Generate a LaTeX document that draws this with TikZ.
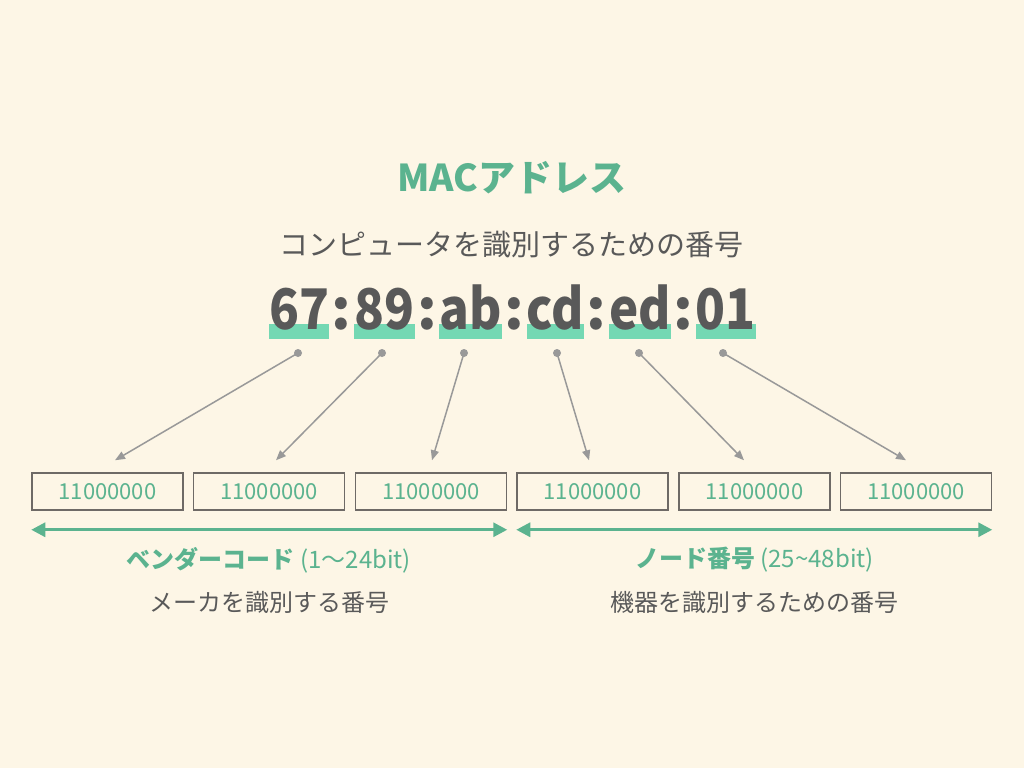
\documentclass[tikz,border=0pt]{standalone}
\usepackage{fontspec}
\setmainfont{Noto Sans CJK JP}
\usepackage{graphicx}
\usepackage{tikz}
\usetikzlibrary{arrows.meta}
\usetikzlibrary{positioning}
\pgfdeclarelayer{paper}
\pgfdeclarelayer{background}
\pgfsetlayers{paper,background,main}

\definecolor{papercol}{HTML}{FDF6E6}
\definecolor{leaf}{HTML}{5BB38F}
\definecolor{mint}{HTML}{74D8B3}
\definecolor{ink}{HTML}{595959}
\definecolor{linkgray}{HTML}{999999}
\definecolor{framegray}{HTML}{6E6A66}

\newcommand{\octpair}[1]{\scalebox{0.88}[1]{#1}}

\tikzset{
  mac/.style={inner sep=0pt, anchor=base west, text=ink, font=\fontsize{56}{64}\selectfont\bfseries},
  colon/.style={mac, inner xsep=2.3pt},
  bits/.style={draw=framegray, line width=1.5pt, minimum width=151pt, minimum height=37pt,
    inner sep=0pt, text=leaf, font=\fontsize{22}{26}\selectfont},
  link/.style={draw=linkgray, line width=1.5pt, -{Triangle[length=10pt,width=8pt]}},
  span/.style={draw=leaf, line width=3pt,
    {Triangle[length=14pt,width=14pt]}-{Triangle[length=14pt,width=14pt]}},
  caption/.style={text=leaf, font=\fontsize{24}{28}\selectfont},
  remark/.style={text=ink, font=\fontsize{24}{28}\selectfont},
}

\begin{document}
\begin{tikzpicture}[x=1pt, y=-1pt]
  % Paper
  \begin{pgfonlayer}{paper}
    \fill[papercol] (0,0) rectangle (1024,768);
  \end{pgfonlayer}
  \useasboundingbox (0,0) rectangle (1024,768);

  % Heading
  \node[text=leaf, font=\fontsize{37}{40}\selectfont\bfseries] (title) at (512,178) {MACアドレス};
  \node[text=ink, font=\fontsize{29}{32}\selectfont] (purpose) at (511,245) {コンピュータを識別するための番号};

  % The address, one pair at a time
  \node[mac] (m1) at (269,329) {\octpair{67}};
  \node[colon] (c1) at (m1.base east) {:};
  \node[mac] (m2) at (c1.base east) {\octpair{89}};
  \node[colon] (c2) at (m2.base east) {:};
  \node[mac] (m3) at (c2.base east) {\octpair{ab}};
  \node[colon] (c3) at (m3.base east) {:};
  \node[mac] (m4) at (c3.base east) {\octpair{cd}};
  \node[colon] (c4) at (m4.base east) {:};
  \node[mac] (m5) at (c4.base east) {\octpair{ed}};
  \node[colon] (c5) at (m5.base east) {:};
  \node[mac] (m6) at (c5.base east) {\octpair{01}};

  % Marker bars under each pair
  \begin{pgfonlayer}{background}
    \foreach \i in {1,...,6}
      \fill[mint] ([yshift=5pt]m\i.base west) rectangle ([yshift=-10pt]m\i.base east);
  \end{pgfonlayer}

  % Octet boxes
  \foreach \i/\x in {1/107.5, 2/269, 3/431, 4/592.5, 5/754.5, 6/916}
    \node[bits] (b\i) at (\x,491.5) {11000000};

  % Pointers from the pairs to the boxes
  \foreach \i/\dx/\tx in {1/298/7.5, 2/382/7, 3/464/1, 4/557/-3.5, 5/639/-10.5, 6/723/-10} {
    \coordinate (d\i) at (\dx,353);
    \coordinate (t\i) at ([xshift=\tx pt, yshift=12pt]b\i.north);
    \fill[linkgray] (d\i) circle [radius=4pt];
    \draw[link] (d\i) -- (t\i);
  }

  % Spans
  \coordinate (vl) at ([yshift=-19pt]b1.south west);
  \coordinate (vr) at ([yshift=-19pt]b3.south east);
  \coordinate (nl) at ([yshift=-19pt]b4.south west);
  \coordinate (nr) at ([yshift=-19pt]b6.south east);
  \draw[span] (vl) -- (vr);
  \draw[span] (nl) -- (nr);

  % Captions
  \node[caption] (vendor) at (269,560) {\textbf{ベンダーコード} (1〜24bit)};
  \node[remark] (vendornote) at (269,602) {メーカを識別する番号};
  \node[caption] (device) at (754.5,560) {\textbf{ノード番号} (25\textasciitilde48bit)};
  \node[remark] (devicenote) at (754.5,602) {機器を識別するための番号};
\end{tikzpicture}
\end{document}
